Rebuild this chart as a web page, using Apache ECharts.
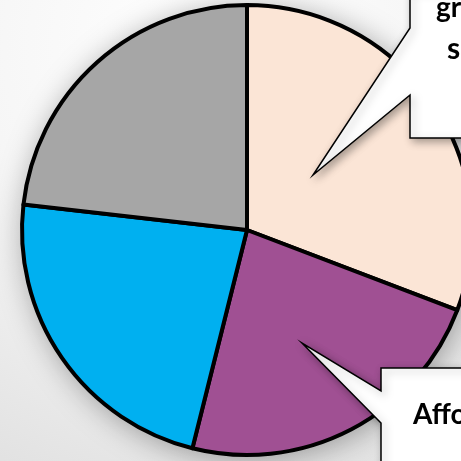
<!DOCTYPE html>
<html>
<head>
<meta charset="utf-8">
<script src="https://cdn.jsdelivr.net/npm/echarts@6/dist/echarts.min.js"></script>
<style>
  html, body { margin: 0; padding: 0; }
  #chart { width: 461px; height: 461px; }
</style>
</head>
<body>
<div id="chart"></div>
<script>
// slice shares, clockwise from 12 o'clock
const categories = ['Greater share', 'Affordable', 'Other A', 'Other B'];
const values = [30.8, 23.1, 22.9, 23.2];
const colors = ['#FBE5D6', '#A05093', '#00B0F0', '#A6A6A6'];

const topLines = ['greater', 'share'];
const bottomLines = ['Affordable'];

let chart = echarts.init(document.getElementById('chart'));

const option = {
    animation: false,
    backgroundColor: {
        type: 'radial', x: 0.45, y: 0.1, r: 1.1,
        colorStops: [
            { offset: 0, color: '#ffffff' },
            { offset: 0.45, color: '#f6f6f6' },
            { offset: 1, color: '#dedede' }
        ]
    },
    series: [
        {
            // shadow disc under the pie
            type: 'pie',
            silent: true,
            center: [247, 230],
            radius: 226,
            label: { show: false },
            itemStyle: {
                color: '#888',
                shadowBlur: 30,
                shadowColor: 'rgba(0,0,0,0.35)',
                shadowOffsetX: 3,
                shadowOffsetY: 4
            },
            data: [1],
            z: 1
        },
        {
            type: 'pie',
            center: [247, 230],
            radius: 225,
            startAngle: 90,
            clockwise: true,
            label: { show: false },
            labelLine: { show: false },
            itemStyle: { borderColor: '#000', borderWidth: 4 },
            data: categories.map((c, i) => ({
                name: c,
                value: values[i],
                itemStyle: { color: colors[i] }
            })),
            z: 2
        }
    ],
    graphic: [
        {
            type: 'polygon',
            z: 10,
            shape: {
                points: [[410, -10], [410, 28], [313, 175], [410, 95], [410, 138], [520, 138], [520, -10]]
            },
            style: {
                fill: '#fff', stroke: '#000', lineWidth: 1.5,
                shadowBlur: 8, shadowColor: 'rgba(0,0,0,0.35)', shadowOffsetX: 3, shadowOffsetY: 3
            }
        },
        {
            type: 'polygon',
            z: 10,
            shape: {
                points: [[381, 368], [381, 391], [302, 343], [381, 423], [381, 480], [520, 480], [520, 368]]
            },
            style: {
                fill: '#fff', stroke: '#000', lineWidth: 1.5,
                shadowBlur: 8, shadowColor: 'rgba(0,0,0,0.35)', shadowOffsetX: 3, shadowOffsetY: 3
            }
        },
        {
            type: 'text', z: 11, left: 436, top: -6,
            style: { text: topLines[0], font: 'bold 28px Lato', fill: '#000' }
        },
        {
            type: 'text', z: 11, left: 447, top: 34,
            style: { text: topLines[1], font: 'bold 30px Lato', fill: '#000' }
        },
        {
            type: 'text', z: 11, left: 413, top: 401,
            style: { text: bottomLines[0], font: 'bold 28px Lato', fill: '#000' }
        }
    ]
};
chart.setOption(option);
window.addEventListener('resize', function () {
    chart.resize();
});
</script>
</body>
</html>
